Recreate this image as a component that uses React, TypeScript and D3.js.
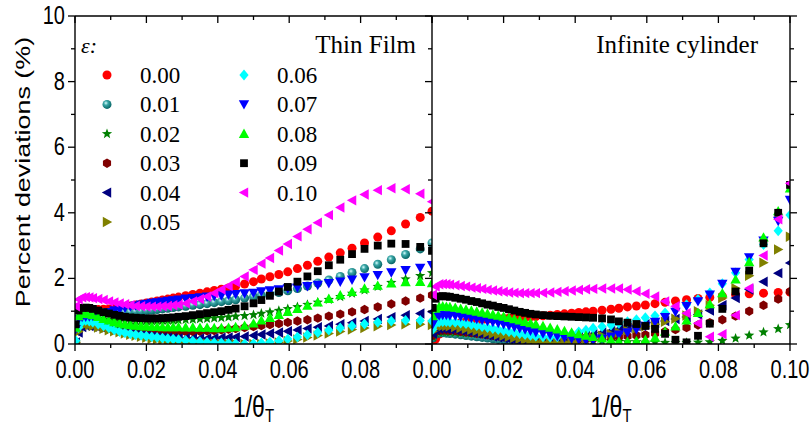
import React from 'react';
import * as d3 from 'd3';

// x positions shared by every series (1/θT)
const X_GRID = [0.0002, 0.001, 0.002, 0.003, 0.004, 0.005, 0.0065, 0.008, 0.0095, 0.011,
  0.0125, 0.014, 0.0155, 0.017, 0.0185, 0.02, 0.0215, 0.023, 0.0245, 0.026,
  0.0275, 0.029, 0.031, 0.033, 0.035, 0.037, 0.039, 0.041, 0.043, 0.045,
  0.0475, 0.05, 0.0522, 0.0546, 0.0571, 0.0596, 0.0623, 0.0651, 0.068, 0.0711,
  0.0743, 0.0776, 0.0811, 0.0848, 0.0886, 0.0926, 0.0967, 0.1];

const EPS_LABELS = ['0.00', '0.01', '0.02', '0.03', '0.04', '0.05', '0.06', '0.07', '0.08', '0.09', '0.10'];
const COLORS = ['#ff0000', '#008080', '#008000', '#800000', '#000080', '#808000', '#00ffff', '#0000ff', '#00ff00', '#000000', '#ff00ff'];
const SHAPES = ['circle', 'sphere', 'star', 'hexagon', 'triLeft', 'triRight', 'diamond', 'triDown', 'triUp', 'square', 'triLeft'];

// Thin film panel, percent deviations
const TF_000 = [0.05, 0.55, 0.9, 1.0, 1.03, 1.04, 1.05, 1.06, 1.07, 1.09,
  1.11, 1.13, 1.16, 1.19, 1.22, 1.25, 1.28, 1.31, 1.34, 1.37,
  1.4, 1.43, 1.47, 1.51, 1.55, 1.59, 1.63, 1.67, 1.71, 1.76,
  1.83, 1.9, 1.98, 2.05, 2.12, 2.2, 2.3, 2.4, 2.52, 2.65,
  2.78, 2.92, 3.08, 3.26, 3.45, 3.66, 3.86, 4.05];
const TF_001 = [0.05, 0.5, 0.85, 0.95, 0.97, 0.97, 0.96, 0.96, 0.96, 0.96,
  0.96, 0.97, 0.98, 0.99, 1.0, 1.02, 1.03, 1.05, 1.07, 1.09,
  1.11, 1.13, 1.15, 1.18, 1.2, 1.23, 1.26, 1.29, 1.32, 1.35,
  1.4, 1.44, 1.48, 1.52, 1.57, 1.62, 1.69, 1.77, 1.86, 1.95,
  2.06, 2.18, 2.3, 2.43, 2.57, 2.73, 2.9, 3.08];
const TF_002 = [0.05, 0.45, 0.72, 0.8, 0.8, 0.79, 0.77, 0.75, 0.73, 0.72,
  0.71, 0.7, 0.7, 0.7, 0.7, 0.7, 0.7, 0.71, 0.71, 0.72,
  0.72, 0.73, 0.74, 0.75, 0.76, 0.77, 0.79, 0.8, 0.82, 0.84,
  0.86, 0.89, 0.93, 0.97, 1.02, 1.07, 1.13, 1.2, 1.27, 1.35,
  1.44, 1.54, 1.64, 1.75, 1.87, 1.98, 2.08, 2.17];
const TF_003 = [0.05, 0.4, 0.6, 0.66, 0.66, 0.65, 0.63, 0.6, 0.57, 0.54,
  0.51, 0.48, 0.46, 0.44, 0.42, 0.4, 0.39, 0.38, 0.37, 0.37,
  0.37, 0.37, 0.38, 0.38, 0.39, 0.4, 0.41, 0.43, 0.45, 0.47,
  0.5, 0.53, 0.56, 0.59, 0.62, 0.66, 0.7, 0.74, 0.79, 0.85,
  0.91, 0.98, 1.05, 1.13, 1.22, 1.31, 1.4, 1.49];
const TF_004 = [0.05, 0.35, 0.52, 0.56, 0.55, 0.53, 0.5, 0.47, 0.44, 0.41,
  0.38, 0.35, 0.32, 0.3, 0.27, 0.25, 0.23, 0.21, 0.2, 0.19,
  0.18, 0.17, 0.17, 0.17, 0.17, 0.17, 0.18, 0.19, 0.2, 0.21,
  0.23, 0.26, 0.29, 0.32, 0.35, 0.39, 0.43, 0.47, 0.51, 0.55,
  0.6, 0.65, 0.7, 0.76, 0.82, 0.88, 0.93, 0.98];
const TF_005 = [0.05, 0.38, 0.56, 0.6, 0.58, 0.55, 0.5, 0.46, 0.42, 0.39,
  0.36, 0.32, 0.28, 0.25, 0.22, 0.19, 0.16, 0.14, 0.12, 0.1,
  0.08, 0.06, 0.04, 0.03, 0.02, 0.01, 0.0, 0.0, 0.0, 0.0,
  0.0, 0.0, 0.0, 0.02, 0.05, 0.09, 0.14, 0.2, 0.26, 0.32,
  0.38, 0.44, 0.49, 0.54, 0.58, 0.6, 0.6, 0.58];
const TF_006 = [0.1, 0.5, 0.68, 0.72, 0.7, 0.67, 0.61, 0.55, 0.49, 0.43,
  0.38, 0.34, 0.31, 0.28, 0.26, 0.24, 0.22, 0.2, 0.18, 0.16,
  0.15, 0.13, 0.11, 0.09, 0.07, 0.05, 0.04, 0.03, 0.02, 0.01,
  0.0, 0.01, 0.03, 0.06, 0.1, 0.15, 0.21, 0.28, 0.35, 0.42,
  0.49, 0.55, 0.61, 0.66, 0.7, 0.72, 0.72, 0.7];
const TF_007 = [0.45, 0.76, 0.82, 0.83, 0.84, 0.85, 0.88, 0.92, 0.97, 1.02,
  1.06, 1.1, 1.14, 1.17, 1.2, 1.22, 1.25, 1.27, 1.29, 1.31,
  1.33, 1.35, 1.38, 1.4, 1.42, 1.44, 1.46, 1.48, 1.5, 1.52,
  1.54, 1.56, 1.6, 1.63, 1.66, 1.69, 1.72, 1.76, 1.8, 1.85,
  1.9, 1.96, 2.03, 2.1, 2.18, 2.25, 2.32, 2.4];
const TF_008 = [0.5, 0.85, 0.92, 0.93, 0.91, 0.88, 0.83, 0.77, 0.72, 0.67,
  0.63, 0.6, 0.58, 0.56, 0.55, 0.54, 0.53, 0.53, 0.52, 0.52,
  0.52, 0.52, 0.51, 0.51, 0.5, 0.5, 0.49, 0.49, 0.5, 0.52,
  0.56, 0.63, 0.72, 0.8, 0.89, 0.98, 1.07, 1.17, 1.27, 1.38,
  1.49, 1.59, 1.69, 1.78, 1.85, 1.89, 1.9, 1.86];
const TF_009 = [0.6, 1.02, 1.1, 1.11, 1.1, 1.07, 1.02, 0.97, 0.93, 0.89,
  0.86, 0.83, 0.81, 0.8, 0.79, 0.78, 0.78, 0.78, 0.79, 0.8,
  0.81, 0.83, 0.85, 0.88, 0.91, 0.94, 0.97, 1.0, 1.04, 1.08,
  1.15, 1.24, 1.34, 1.47, 1.6, 1.74, 1.9, 2.06, 2.22, 2.4,
  2.57, 2.74, 2.9, 3.0, 3.06, 3.05, 2.96, 2.84];
const TF_010 = [1.15, 1.36, 1.42, 1.43, 1.42, 1.4, 1.37, 1.34, 1.3, 1.27,
  1.24, 1.21, 1.18, 1.16, 1.15, 1.14, 1.14, 1.14, 1.15, 1.16,
  1.18, 1.2, 1.24, 1.3, 1.37, 1.45, 1.55, 1.66, 1.77, 1.89,
  2.06, 2.26, 2.45, 2.62, 2.85, 3.05, 3.28, 3.5, 3.7, 3.93,
  4.16, 4.38, 4.56, 4.69, 4.75, 4.72, 4.58, 4.34];

// Infinite cylinder panel, percent deviations (0.01 runs below the axis)
const IC_000 = [0.0, 0.15, 0.3, 0.4, 0.48, 0.54, 0.6, 0.65, 0.68, 0.7,
  0.72, 0.74, 0.75, 0.76, 0.77, 0.78, 0.79, 0.8, 0.81, 0.82,
  0.83, 0.84, 0.86, 0.88, 0.9, 0.92, 0.94, 0.96, 0.98, 1.0,
  1.03, 1.06, 1.09, 1.13, 1.16, 1.19, 1.23, 1.27, 1.31, 1.35,
  1.39, 1.42, 1.46, 1.5, 1.53, 1.55, 1.57, 1.58];
const IC_001 = [0.18, 0.3, 0.33, 0.34, 0.33, 0.32, 0.3, 0.28, 0.26, 0.24,
  0.22, 0.2, 0.18, 0.16, 0.14, 0.12, 0.1, 0.08, 0.06, 0.04,
  0.02, 0.0, -0.03, -0.06, -0.1, -0.14, -0.18, -0.22, -0.26, -0.3,
  -0.35, -0.4, -0.44, -0.48, -0.52, -0.56, -0.6, -0.63, -0.66, -0.68,
  -0.7, -0.71, -0.71, -0.7, -0.68, -0.65, -0.6, -0.55];
const IC_002 = [0.22, 0.33, 0.36, 0.37, 0.37, 0.36, 0.35, 0.34, 0.33, 0.32,
  0.31, 0.3, 0.29, 0.28, 0.27, 0.26, 0.25, 0.24, 0.23, 0.22,
  0.21, 0.2, 0.19, 0.17, 0.16, 0.14, 0.13, 0.12, 0.11, 0.1,
  0.09, 0.08, 0.07, 0.06, 0.06, 0.05, 0.05, 0.04, 0.04, 0.04,
  0.05, 0.06, 0.1, 0.17, 0.26, 0.36, 0.46, 0.58];
const IC_003 = [0.26, 0.38, 0.41, 0.42, 0.42, 0.41, 0.4, 0.38, 0.36, 0.34,
  0.32, 0.3, 0.28, 0.26, 0.24, 0.22, 0.2, 0.18, 0.16, 0.14,
  0.13, 0.12, 0.11, 0.11, 0.11, 0.12, 0.13, 0.14, 0.15, 0.16,
  0.18, 0.2, 0.22, 0.24, 0.26, 0.28, 0.32, 0.38, 0.44, 0.5,
  0.58, 0.65, 0.74, 0.85, 1.0, 1.18, 1.37, 1.6];
const IC_004 = [0.32, 0.43, 0.46, 0.47, 0.46, 0.45, 0.43, 0.41, 0.38, 0.35,
  0.32, 0.29, 0.26, 0.23, 0.2, 0.17, 0.14, 0.11, 0.08, 0.06,
  0.05, 0.05, 0.06, 0.08, 0.11, 0.14, 0.18, 0.22, 0.26, 0.3,
  0.35, 0.4, 0.45, 0.5, 0.55, 0.6, 0.65, 0.7, 0.76, 0.82,
  0.9, 1.02, 1.18, 1.4, 1.66, 1.9, 2.16, 2.47];
const IC_005 = [0.38, 0.5, 0.54, 0.55, 0.55, 0.54, 0.52, 0.49, 0.46, 0.43,
  0.4, 0.37, 0.34, 0.31, 0.28, 0.25, 0.22, 0.19, 0.16, 0.13,
  0.1, 0.07, 0.05, 0.03, 0.03, 0.05, 0.08, 0.12, 0.16, 0.2,
  0.25, 0.3, 0.35, 0.41, 0.47, 0.53, 0.6, 0.68, 0.77, 0.87,
  1.0, 1.18, 1.4, 1.7, 2.08, 2.48, 2.88, 3.27];
const IC_006 = [0.45, 0.62, 0.67, 0.68, 0.68, 0.67, 0.66, 0.64, 0.62, 0.59,
  0.56, 0.53, 0.5, 0.47, 0.44, 0.41, 0.38, 0.35, 0.32, 0.29,
  0.26, 0.24, 0.22, 0.21, 0.22, 0.26, 0.31, 0.37, 0.42, 0.48,
  0.53, 0.58, 0.63, 0.68, 0.74, 0.8, 0.86, 0.95, 1.07, 1.2,
  1.36, 1.56, 1.84, 2.17, 2.58, 3.03, 3.45, 3.93];
const IC_007 = [0.6, 0.82, 0.87, 0.88, 0.88, 0.87, 0.86, 0.84, 0.82, 0.79,
  0.76, 0.73, 0.7, 0.67, 0.64, 0.6, 0.56, 0.52, 0.48, 0.44,
  0.4, 0.36, 0.32, 0.28, 0.24, 0.2, 0.16, 0.13, 0.11, 0.12,
  0.16, 0.22, 0.28, 0.35, 0.44, 0.55, 0.67, 0.82, 0.98, 1.15,
  1.3, 1.5, 1.83, 2.2, 2.64, 3.15, 3.75, 4.39];
const IC_008 = [0.85, 1.08, 1.14, 1.15, 1.14, 1.13, 1.11, 1.08, 1.05, 1.02,
  0.99, 0.96, 0.93, 0.9, 0.87, 0.84, 0.8, 0.76, 0.72, 0.68,
  0.64, 0.6, 0.55, 0.5, 0.45, 0.4, 0.35, 0.3, 0.26, 0.22,
  0.17, 0.12, 0.08, 0.07, 0.09, 0.13, 0.2, 0.38, 0.54, 0.72,
  0.95, 1.22, 1.55, 1.97, 2.5, 3.25, 4.05, 4.75];
const IC_009 = [1.1, 1.38, 1.45, 1.46, 1.45, 1.44, 1.41, 1.38, 1.35, 1.31,
  1.28, 1.24, 1.2, 1.17, 1.13, 1.1, 1.06, 1.02, 0.98, 0.95,
  0.92, 0.9, 0.88, 0.86, 0.85, 0.84, 0.83, 0.82, 0.81, 0.8,
  0.78, 0.75, 0.69, 0.65, 0.61, 0.55, 0.46, 0.31, 0.13, 0.05,
  0.25, 0.62, 1.07, 1.6, 2.24, 3.07, 4.0, 4.85];
const IC_010 = [1.5, 1.75, 1.82, 1.83, 1.82, 1.81, 1.79, 1.77, 1.75, 1.72,
  1.7, 1.68, 1.65, 1.63, 1.61, 1.59, 1.57, 1.56, 1.55, 1.55,
  1.55, 1.55, 1.56, 1.57, 1.59, 1.61, 1.63, 1.65, 1.67, 1.68,
  1.69, 1.69, 1.69, 1.66, 1.61, 1.53, 1.45, 1.3, 1.15, 0.94,
  0.63, 0.22, 0.3, 0.88, 1.7, 2.7, 3.8, 4.9];

const THIN_FILM = [TF_000, TF_001, TF_002, TF_003, TF_004, TF_005, TF_006, TF_007, TF_008, TF_009, TF_010];
const CYLINDER = [IC_000, IC_001, IC_002, IC_003, IC_004, IC_005, IC_006, IC_007, IC_008, IC_009, IC_010];

const X_MAJOR = [0, 0.02, 0.04, 0.06, 0.08, 0.1];
const X_MINOR = [0.01, 0.03, 0.05, 0.07, 0.09];
const X_LABELS = ['0.00', '0.02', '0.04', '0.06', '0.08', '0.10'];
const Y_MAJOR = [0, 2, 4, 6, 8, 10];
const Y_MINOR = [1, 3, 5, 7, 9];

const TOP = 16, BOTTOM = 344, LEFT = 75, MID = 432, RIGHT = 790;
const SANS = 'Liberation Sans, Arial, sans-serif';
const SERIF = 'Liberation Serif, Times New Roman, serif';
const STRETCH = 1.28; // sans labels look taller than wide in the picture

const y = d3.scaleLinear().domain([0, 10]).range([BOTTOM, TOP]);
const xL = d3.scaleLinear().domain([0, 0.1]).range([LEFT, MID]);
const xR = d3.scaleLinear().domain([0, 0.1]).range([MID, RIGHT]);

const closed = d3.line().curve(d3.curveLinearClosed);
const star = closed(d3.range(10).map(i => {
  const a = -Math.PI / 2 + (i * Math.PI) / 5;
  const r = i % 2 ? 2.3 : 5.4;
  return [r * Math.cos(a), r * Math.sin(a)] as [number, number];
}));
const hexagon = closed(d3.range(6).map(i => {
  const a = -Math.PI / 2 + (i * Math.PI) / 3;
  return [4.7 * Math.cos(a), 4.7 * Math.sin(a)] as [number, number];
}));
const PATHS: Record<string, string> = {
  star: star as string,
  hexagon: hexagon as string,
  triLeft: 'M-5.2,0L4.2,-5.2L4.2,5.2Z',
  triRight: 'M5.2,0L-4.2,-5.2L-4.2,5.2Z',
  triUp: 'M0,-5.2L5.2,4.2L-5.2,4.2Z',
  triDown: 'M0,5.2L5.2,-4.2L-5.2,-4.2Z',
  diamond: 'M0,-5.4L4.6,0L0,5.4L-4.6,0Z',
  square: 'M-3.9,-3.9H3.9V3.9H-3.9Z',
};

function Marker({ i, cx, cy }: { i: number; cx: number; cy: number }) {
  const shape = SHAPES[i];
  if (shape === 'circle') return <circle cx={cx} cy={cy} r={4.5} fill={COLORS[i]} />;
  if (shape === 'sphere') return <circle cx={cx} cy={cy} r={4.5} fill="url(#sphere)" />;
  return <path transform={`translate(${cx},${cy})`} d={PATHS[shape]} fill={COLORS[i]} />;
}

function Panel({ id, x, data }: { id: string; x: d3.ScaleLinear<number, number>; data: number[][] }) {
  const [x0, x1] = x.range();
  return (
    <g>
      <clipPath id={id}>
        <rect x={x0} y={TOP} width={x1 - x0} height={BOTTOM - TOP} />
      </clipPath>
      <g clipPath={`url(#${id})`}>
        {data.map((series, i) => (
          <g key={i}>
            {series.map((v, k) => <Marker key={k} i={i} cx={x(X_GRID[k])} cy={y(v)} />)}
          </g>
        ))}
      </g>
      <g stroke="#000" strokeWidth={1.3}>
        {X_MAJOR.map(t => (
          <g key={'M' + t}>
            <line x1={x(t)} x2={x(t)} y1={BOTTOM} y2={BOTTOM + 7} />
            <line x1={x(t)} x2={x(t)} y1={TOP} y2={TOP + 7} />
          </g>
        ))}
        {X_MINOR.map(t => (
          <g key={'m' + t}>
            <line x1={x(t)} x2={x(t)} y1={BOTTOM} y2={BOTTOM + 4} />
            <line x1={x(t)} x2={x(t)} y1={TOP} y2={TOP + 4} />
          </g>
        ))}
      </g>
    </g>
  );
}

function YTicks({ at, dir }: { at: number; dir: number }) {
  return (
    <g stroke="#000" strokeWidth={1.3}>
      {Y_MAJOR.map(t => <line key={'M' + t} x1={at} x2={at + dir * 7} y1={y(t)} y2={y(t)} />)}
      {Y_MINOR.map(t => <line key={'m' + t} x1={at} x2={at + dir * 4} y1={y(t)} y2={y(t)} />)}
    </g>
  );
}

// text drawn at (x, baseline) and stretched vertically
function Tall({ x, yb, anchor, size, children }: { x: number; yb: number; anchor: string; size: number; children: React.ReactNode }) {
  return (
    <text transform={`translate(${x},${yb}) scale(1,${STRETCH})`} textAnchor={anchor} fontSize={size}>
      {children}
    </text>
  );
}

export default function App() {
  const legendRow = (k: number) => 75 + k * 29.4;
  return (
    <svg width={810} height={428} style={{ position: 'absolute', left: 0, top: 0, background: '#fff' }}>
      <defs>
        <radialGradient id="sphere" cx="0.38" cy="0.35" r="0.7">
          <stop offset="0" stopColor="#d8ffff" />
          <stop offset="0.35" stopColor="#3aa6a6" />
          <stop offset="1" stopColor="#005e5e" />
        </radialGradient>
      </defs>
      <rect width={810} height={428} fill="#fff" />

      <Panel id="clipL" x={xL} data={THIN_FILM} />
      <Panel id="clipR" x={xR} data={CYLINDER} />

      <g stroke="#000" strokeWidth={1.4} fill="none">
        <line x1={LEFT} x2={RIGHT} y1={TOP} y2={TOP} />
        <line x1={LEFT} x2={RIGHT} y1={BOTTOM} y2={BOTTOM} />
        <line x1={LEFT} x2={LEFT} y1={TOP} y2={BOTTOM} />
        <line x1={MID} x2={MID} y1={TOP} y2={BOTTOM} />
        <line x1={RIGHT} x2={RIGHT} y1={TOP} y2={BOTTOM} />
      </g>
      <YTicks at={LEFT} dir={-1} />
      <YTicks at={MID} dir={-1} />
      <YTicks at={RIGHT} dir={1} />

      <g fontFamily={SANS} fill="#000">
        {Y_MAJOR.map(t => (
          <Tall key={t} x={LEFT - 10} yb={y(t) + 8} anchor="end" size={20}>{t}</Tall>
        ))}
        {X_MAJOR.slice(0, 5).map((t, k) => (
          <Tall key={'l' + t} x={xL(t)} yb={378} anchor="middle" size={20}>{X_LABELS[k]}</Tall>
        ))}
        {X_MAJOR.map((t, k) => (
          <Tall key={'r' + t} x={xR(t)} yb={378} anchor="middle" size={20}>{X_LABELS[k]}</Tall>
        ))}
        {[xL, xR].map((sc, k) => (
          <Tall key={'t' + k} x={sc(0.05)} yb={417} anchor="middle" size={23}>
            1/θ<tspan fontSize={15} dy={4}>T</tspan>
          </Tall>
        ))}
        <text transform={`translate(30,${(TOP + BOTTOM) / 2 - 8}) rotate(-90) scale(${STRETCH},1)`} textAnchor="middle" fontSize={21}>
          Percent deviations (%)
        </text>
      </g>

      <g fontFamily={SERIF} fill="#000">
        <text x={81} y={53} fontSize={22} fontStyle="italic">ε:</text>
        <text x={416} y={53} fontSize={25} textAnchor="end">Thin Film</text>
        <text x={758} y={53} fontSize={25} textAnchor="end">Infinite cylinder</text>
        {EPS_LABELS.map((lab, i) => {
          const col = i < 6 ? 0 : 1;
          const row = i < 6 ? i : i - 6;
          const sx = col === 0 ? 107 : 244;
          const cy = legendRow(row);
          return (
            <g key={lab}>
              <Marker i={i} cx={sx} cy={cy} />
              <text x={sx + 33} y={cy + 8} fontSize={23}>{lab}</text>
            </g>
          );
        })}
      </g>
    </svg>
  );
}
